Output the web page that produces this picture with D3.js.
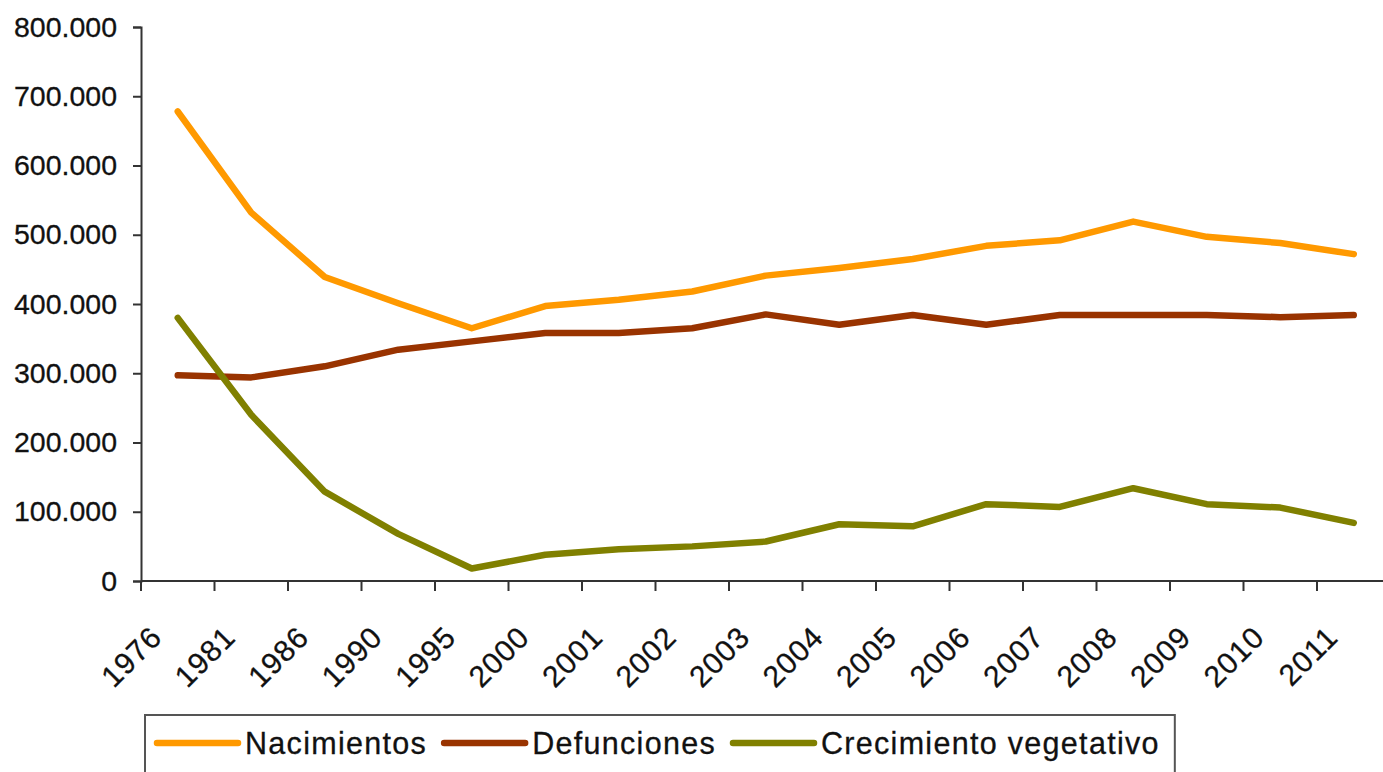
<!DOCTYPE html>
<html>
<head>
<meta charset="utf-8">
<script src="https://cdn.jsdelivr.net/npm/d3@7"></script>
<style>
  html, body { margin: 0; padding: 0; background: #fff; }
  svg { display: block; font-family: "Liberation Sans", Arial, sans-serif; }
</style>
</head>
<body>
<svg id="chart" width="1383" height="772"></svg>
<script>
const years = ["1976","1981","1986","1990","1995","2000","2001","2002","2003","2004","2005","2006","2007","2008","2009","2010","2011"];
const nacimientos = [678000,532000,439000,401000,365000,397000,406000,418000,441000,452000,465000,484000,492000,519000,497000,488000,472000];
const defunciones = [297000,294000,310000,334000,346000,358000,358000,365000,385000,370000,384000,370000,384000,384000,384000,381000,384000];
const crecimiento = [380000,240000,129000,68000,18000,38000,46000,50000,57000,82000,79000,111000,107000,134000,111000,106000,84000];
const yTicks = [0,100000,200000,300000,400000,500000,600000,700000,800000];
const seriesNames = ["Nacimientos","Defunciones","Crecimiento vegetativo"];
const seriesColors = ["#FF9900","#993300","#808000"];

const svg = d3.select("#chart");
const x0 = 141, x1 = 141 + 17 * 73.5;
const yBase = 581, yTop = 27;

const x = d3.scaleBand().domain(years).range([x0, x1]).paddingInner(0).paddingOuter(0);
const y = d3.scaleLinear().domain([0, 800000]).range([yBase, yTop]);

const fmt = v => v === 0 ? "0" : d3.format(",")(v).replace(/,/g, ".");

// Y axis
const yAxis = d3.axisLeft(y).tickValues(yTicks).tickSize(8).tickPadding(16).tickFormat(fmt);
const gy = svg.append("g").attr("transform", `translate(${x0},0)`).call(yAxis);
gy.select(".domain").attr("stroke", "#333").attr("stroke-width", 2);
gy.selectAll(".tick line").attr("stroke", "#333").attr("stroke-width", 2);
gy.selectAll(".tick text").attr("font-size", 28.5).attr("fill", "#111")
  .attr("stroke", "#111").attr("stroke-width", 0.3)
  .attr("font-family", "'Liberation Sans', Arial, sans-serif");

// X axis (ticks between categories)
const gx = svg.append("g").attr("transform", `translate(0,${yBase})`);
gx.append("line").attr("x1", x0).attr("x2", 1383).attr("y1", 0).attr("y2", 0)
  .attr("stroke", "#333").attr("stroke-width", 2);
gx.selectAll("line.tk").data(years).enter().append("line").attr("class", "tk")
  .attr("x1", d => x(d)).attr("x2", d => x(d)).attr("y1", 0).attr("y2", 10)
  .attr("stroke", "#333").attr("stroke-width", 2);
gx.selectAll("text.lbl").data(years).enter().append("text").attr("class", "lbl")
  .attr("transform", d => `translate(${x(d) + x.bandwidth() / 2 - 14},58) rotate(-45)`)
  .attr("text-anchor", "end")
  .attr("font-size", 30).attr("letter-spacing", 1).attr("fill", "#111")
  .attr("stroke", "#111").attr("stroke-width", 0.3)
  .text(d => d);

// Lines
const data = [nacimientos, defunciones, crecimiento];
const line = d3.line().x((d, i) => x(years[i]) + x.bandwidth() / 2).y(d => y(d));
data.forEach((s, k) => {
  svg.append("path").datum(s).attr("d", line).attr("fill", "none")
    .attr("stroke", seriesColors[k]).attr("stroke-width", 6.5)
    .attr("stroke-linejoin", "round").attr("stroke-linecap", "round");
});

// Legend
const lg = svg.append("g");
const box = lg.append("rect").attr("x", 145).attr("y", 715).attr("height", 90)
  .attr("fill", "#fff").attr("stroke", "#555").attr("stroke-width", 2);
let cx = 157;
const ly = 743;
seriesNames.forEach((name, k) => {
  lg.append("line").attr("x1", cx).attr("x2", cx + 81).attr("y1", ly).attr("y2", ly)
    .attr("stroke", seriesColors[k]).attr("stroke-width", 6.5).attr("stroke-linecap", "round");
  const t = lg.append("text").attr("x", cx + 88).attr("y", ly + 11)
    .attr("font-size", 30.5).attr("letter-spacing", 1.3).attr("fill", "#111")
    .attr("stroke", "#111").attr("stroke-width", 0.3).text(name);
  const w = t.node().getComputedTextLength();
  cx = cx + 88 + w + 17;
});
box.attr("width", cx - 17 + 15 - 145);
</script>
</body>
</html>
